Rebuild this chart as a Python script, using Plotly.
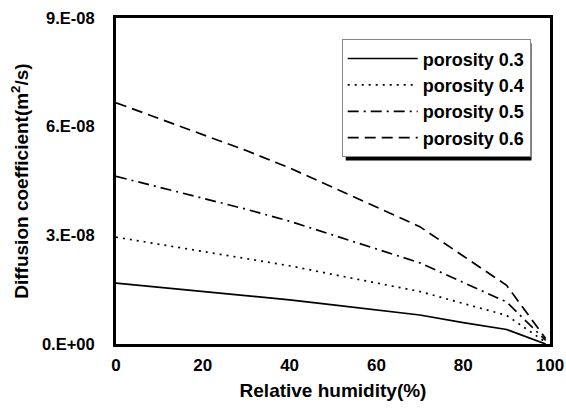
import plotly.graph_objects as go

rh = [0, 10, 20, 30, 40, 50, 60, 70, 80, 90, 99]
d_03 = [1.68, 1.57, 1.46, 1.34, 1.22, 1.08, 0.94, 0.80, 0.59, 0.40, 0.00]
d_04 = [2.95, 2.75, 2.56, 2.36, 2.16, 1.92, 1.69, 1.45, 1.12, 0.79, 0.05]
d_05 = [4.63, 4.33, 4.02, 3.72, 3.39, 3.00, 2.61, 2.24, 1.70, 1.16, 0.10]
d_06 = [6.66, 6.23, 5.78, 5.34, 4.86, 4.32, 3.78, 3.24, 2.43, 1.62, 0.15]
names = ["porosity 0.3", "porosity 0.4", "porosity 0.5", "porosity 0.6"]
dashes = ["solid", "2px,5px", "11px,5px,2px,5px", "11px,6px"]

y_tickvals = [0, 3e-8, 6e-8, 9e-8]
y_ticktext = ["0.E+00", "3.E-08", "6.E-08", "9.E-08"]
x_tickvals = [0, 20, 40, 60, 80, 100]

FONT = "Liberation Sans, Arial, sans-serif"
W, H = 566, 415
ML, MR, MT, MB = 116, 16, 18, 71
PW, PH = W - ML - MR, H - MT - MB

fig = go.Figure()
for name, vals, dash in zip(names, [d_03, d_04, d_05, d_06], dashes):
    fig.add_trace(go.Scatter(
        x=rh, y=[v * 1e-8 for v in vals], mode="lines", name=name,
        line=dict(color="black", width=1.7, dash=dash),
    ))

def px_x(p):
    return (p - ML) / PW
def px_y(p):
    return (H - MB - p) / PH

# legend drop shadow (estimated pixel box of legend, offset by a few px)
lg_left, lg_top = 341.7, 39.3
fig.add_shape(type="rect", xref="paper", yref="paper",
              x0=px_x(lg_left + 4), x1=px_x(531.5),
              y0=px_y(160.5), y1=px_y(lg_top + 4),
              fillcolor="black", line=dict(width=0), layer="above")

fig.update_layout(
    width=W, height=H,
    margin=dict(l=ML, r=MR, t=MT, b=MB),
    paper_bgcolor="white", plot_bgcolor="white",
    font=dict(family=FONT, size=17, color="black", weight="bold"),
    showlegend=True,
    legend=dict(
        x=px_x(lg_left), y=px_y(lg_top), xanchor="left", yanchor="top",
        bgcolor="white", bordercolor="#888888", borderwidth=1,
        font=dict(family=FONT, size=18, color="black", weight="bold"),
        itemwidth=70, tracegroupgap=0,
    ),
    xaxis=dict(
        range=[0, 100], tickvals=x_tickvals, ticks="", showgrid=False, zeroline=False,
        showline=True, linecolor="black", linewidth=3, mirror=True, automargin=False,
        tickfont=dict(family=FONT, size=17, weight="bold"), ticklabelstandoff=4,
        title=dict(text="Relative humidity(%)", standoff=10,
                   font=dict(family=FONT, size=19, weight="bold")),
    ),
    yaxis=dict(
        range=[0, 9e-8], tickvals=y_tickvals, ticktext=y_ticktext, ticks="",
        showgrid=False, zeroline=False, automargin=False,
        showline=True, linecolor="black", linewidth=3, mirror=True,
        tickfont=dict(family=FONT, size=16.5, weight="bold"), ticklabelstandoff=15,
        title=dict(text="Diffusion coefficient(m<sup>2</sup>/s)", standoff=9,
                   font=dict(family=FONT, size=19, weight="bold")),
    ),
)

fig.write_html("out.html")
